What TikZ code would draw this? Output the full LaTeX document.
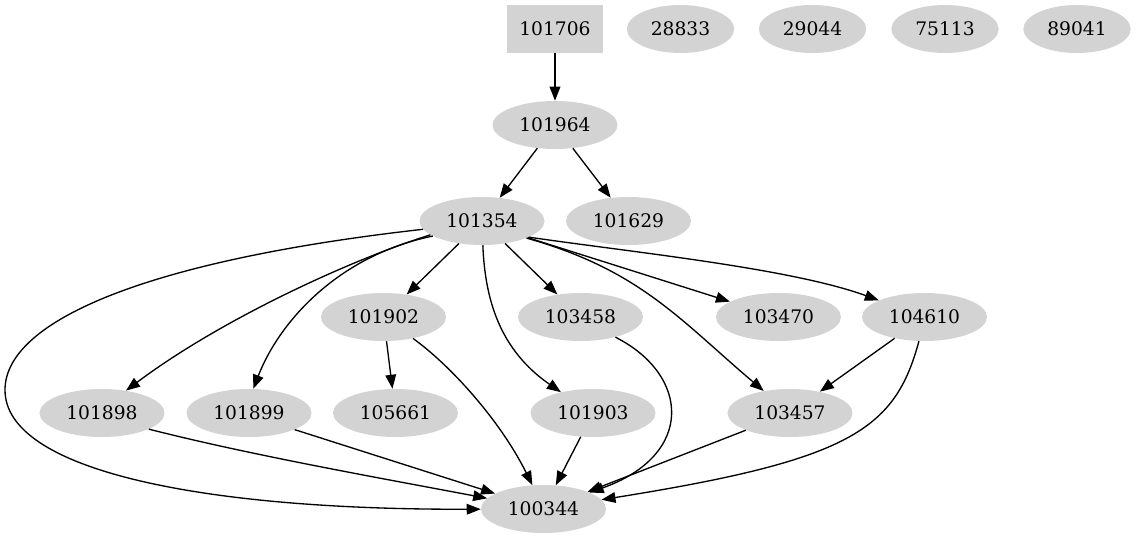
\documentclass[tikz,border=0pt]{standalone}
\usepackage{fontspec}
\setmainfont{DejaVu Serif}
\usetikzlibrary{arrows.meta,shapes.geometric}
\definecolor{lgray}{RGB}{211,211,211}
\begin{document}
\begin{tikzpicture}[x=0.75pt,y=-0.75pt,
  el/.style={ellipse,fill=lgray,draw=none,inner sep=0pt,minimum width=93.75pt,minimum height=36pt,font=\fontsize{14}{16}\selectfont},
  els/.style={el,minimum width=80.5pt},
  bx/.style={rectangle,fill=lgray,draw=none,inner sep=0pt,minimum width=72pt,minimum height=36pt,font=\fontsize{14}{16}\selectfont},
  conn/.style={draw=black,line width=1pt,-{Triangle[length=10.5pt,width=8pt]}}]
\useasboundingbox (0,0) rectangle (1136,539);
% nodes
\node[bx] (n101706) at (555,29) {101706};
\node[els] (n28833) at (680.5,29) {28833};
\node[els] (n29044) at (812.5,29) {29044};
\node[els] (n75113) at (945,29) {75113};
\node[els] (n89041) at (1077,29) {89041};
\node[el] (n101964) at (555,125) {101964};
\node[el] (n101354) at (482,221) {101354};
\node[el] (n101629) at (628.5,221) {101629};
\node[el] (n101902) at (383.5,317) {101902};
\node[el] (n103458) at (580.5,317) {103458};
\node[el] (n103470) at (778.5,317) {103470};
\node[el] (n104610) at (924.5,317) {104610};
\node[el] (n101898) at (102,413) {101898};
\node[el] (n101899) at (249,413) {101899};
\node[el] (n105661) at (395.5,413) {105661};
\node[el] (n101903) at (593,413) {101903};
\node[el] (n103457) at (790,413) {103457};
\node[el] (n100344) at (543.5,509) {100344};
% edges
\draw[conn] (n101706) -- (n101964);
\draw[conn] (n101964) -- (n101354);
\draw[conn] (n101964) -- (n101629);
\draw[conn] (n101354) -- (n101902);
\draw[conn] (n101354) -- (n103458);
\draw[conn] (n101354.-20) -- (n103470);
\draw[conn] (n101354.-19) .. controls (630,252) and (790,268) .. (n104610);
\draw[conn] (n101354.-21) .. controls (640,270) and (680,320) .. (n103457.140);
\draw[conn] (n101354.-88) .. controls (485,300) and (500,350) .. (n101903.147);
\draw[conn] (n101354.-165) .. controls (350,260) and (220,320) .. (n101898.43);
\draw[conn] (n101354.-163) .. controls (340,255) and (280,320) .. (n101899.80);
\draw[conn] (n101354.-172) .. controls (150,260) and (5,320) .. (5,390)
   .. controls (5,470) and (200,510) .. (n100344);
\draw[conn] (n101902) -- (n105661);
\draw[conn] (n101902.-36) .. controls (450,365) and (500,420) .. (n100344.115);
\draw[conn] (n103458.-30) .. controls (690,375) and (695,455) .. (n100344);
\draw[conn] (n101903) -- (n100344);
\draw[conn] (n103457) -- (n100344);
\draw[conn] (n104610) -- (n103457);
\draw[conn] (n104610.-103) .. controls (895,430) and (850,460) .. (n100344);
\draw[conn] (n101898.-19) .. controls (250,455) and (380,478) .. (n100344);
\draw[conn] (n101899.-20) -- (n100344);
\end{tikzpicture}
\end{document}
